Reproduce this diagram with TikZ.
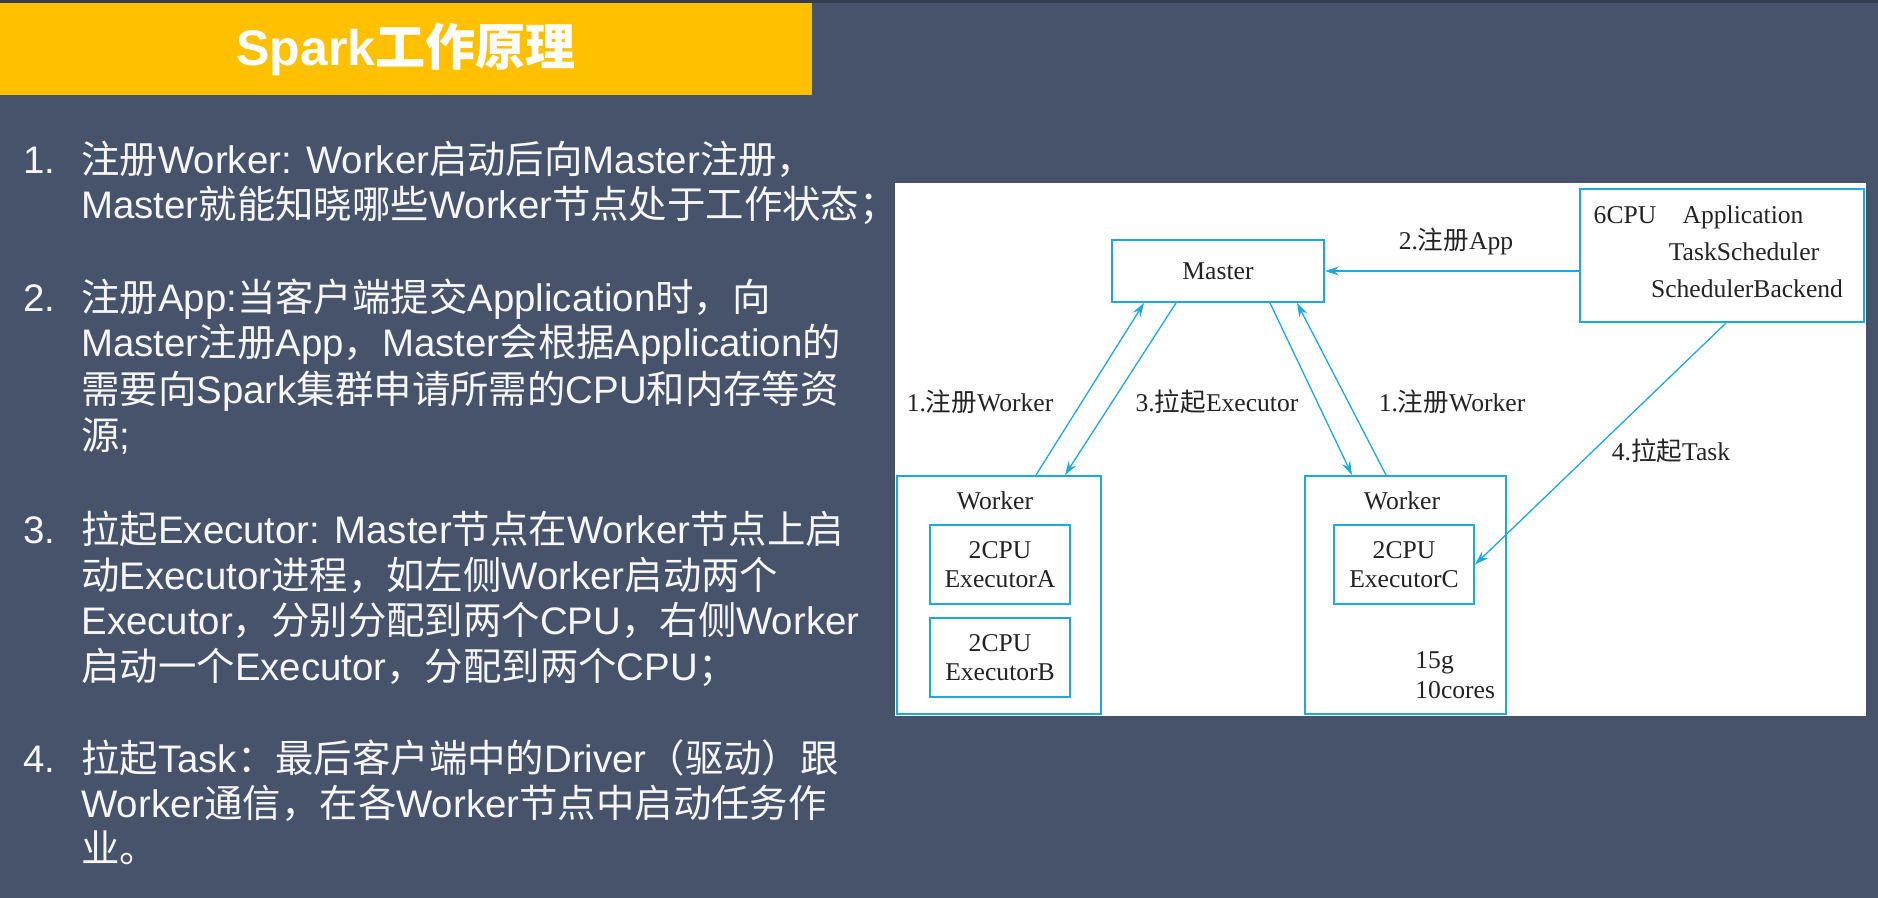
\documentclass[tikz,border=0pt]{standalone}
\usepackage{fontspec}
\setmainfont{Liberation Serif}
\setsansfont{Liberation Sans}
\newfontfamily\cjk{Noto Sans CJK SC}
\usetikzlibrary{arrows.meta,positioning}
\definecolor{slide}{RGB}{70,83,106}
\definecolor{slideEdge}{RGB}{52,60,78}
\definecolor{banner}{RGB}{255,192,0}
\definecolor{flow}{RGB}{30,168,224}
\definecolor{ink}{RGB}{35,35,35}
\definecolor{paper}{RGB}{246,246,246}

% switch to the CJK family for Chinese characters and back again
\def\latinfam{\rmfamily}
\XeTeXinterchartokenstate=1
\newXeTeXintercharclass\cjkClass
\def\setcjkrange#1#2{\count255=#1
  \loop\XeTeXcharclass\count255=\cjkClass
  \ifnum\count255<#2 \advance\count255 by 1 \repeat}
\setcjkrange{"3000}{"303F}
\setcjkrange{"4E00}{"9FFF}
\setcjkrange{"FF00}{"FFEF}
\XeTeXinterchartoks 0 \cjkClass={\cjk}
\XeTeXinterchartoks 4095 \cjkClass={\cjk}
\XeTeXinterchartoks \cjkClass 0={\latinfam}
\XeTeXinterchartoks \cjkClass 4095={\latinfam}

\begin{document}
\begin{tikzpicture}[x=0.5pt,y=-0.5pt,
  txt/.style={font={\def\latinfam{\sffamily}\sffamily\fontsize{19.2}{23}\selectfont},text=paper,anchor=base west,inner sep=0pt},
  box/.style={draw=flow,line width=1pt,fill=white,inner sep=0pt},
  lbl/.style={font=\fontsize{12.8}{14.5}\selectfont,text=ink,inner sep=0pt},
  arr/.style={draw=flow,line width=0.65pt,-{Stealth[length=7pt,width=4.5pt,inset=2.5pt]}}]

\useasboundingbox (0,0) rectangle (1878,898);

% slide background and title banner
\fill[slide] (0,0) rectangle (1878,898);
\fill[slideEdge] (0,0) rectangle (1878,3);
\node[fill=banner,minimum width=406pt,minimum height=46pt,inner sep=0pt,text=white,
      font={\def\latinfam{\sffamily}\sffamily\bfseries\fontsize{25}{30}\selectfont}] (title) at (406,49) {Spark工作原理};

% the four steps
\def\steps{1/174,2/312,3/543,4/772}
\def\lines{
174/{注册Worker: Worker启动后向Master注册，},
219/{Master就能知晓哪些Worker节点处于工作状态；},
312/{注册App:当客户端提交Application时，向},
357/{Master注册App，Master会根据Application的},
403/{需要向Spark集群申请所需的CPU和内存等资},
449/{源;},
543/{拉起Executor: Master节点在Worker节点上启},
589/{动Executor进程，如左侧Worker启动两个},
634/{Executor，分别分配到两个CPU，右侧Worker},
680/{启动一个Executor，分配到两个CPU；},
772/{拉起Task：最后客户端中的Driver（驱动）跟},
817/{Worker通信，在各Worker节点中启动任务作},
862/{业。}
}
\foreach \n/\y in \steps
  \node[txt] (num\n) at (23,\y) {\n.};
\foreach \y/\txt [count=\i] in \lines
  \node[txt] (line\i) at (81,\y) {\txt};

% white panel of the diagram
\fill[white] (895,183) rectangle (1866,716);

% boxes
\node[box,lbl,minimum width=106pt,minimum height=31pt] (master) at (1218,271) {Master};
\node[box,minimum width=142pt,minimum height=66.5pt] (app) at (1722,255.5) {};
\node[box,minimum width=102pt,minimum height=119pt] (wkLeft) at (999,595) {};
\node[box,minimum width=100.5pt,minimum height=119pt] (wkRight) at (1405.5,595) {};
\node[box,lbl,align=center,minimum width=70pt,minimum height=39.5pt] (exA) at (1000,564.5) {2CPU\\ExecutorA};
\node[box,lbl,align=center,minimum width=70pt,minimum height=39.5pt] (exB) at (1000,657.5) {2CPU\\ExecutorB};
\node[box,lbl,align=center,minimum width=70pt,minimum height=39.5pt] (exC) at (1404,564.5) {2CPU\\ExecutorC};

% texts in the boxes
\node[lbl,anchor=base] (cpuSix) at (1625,224) {6CPU};
\node[lbl,anchor=base] (appName) at (1743,224) {Application};
\node[lbl,anchor=base] (taskSched) at (1744,261) {TaskScheduler};
\node[lbl,anchor=base] (schedBack) at (1747,298) {SchedulerBackend};
\node[lbl,anchor=base] (wkLeftName) at (995,509) {Worker};
\node[lbl,anchor=base] (wkRightName) at (1402,509) {Worker};
\node[lbl,anchor=base west] (mem) at (1415,668) {15g};
\node[lbl,anchor=base west] (cores) at (1415,698) {10cores};

% connectors
\draw[arr] ([xshift=18.5pt]wkLeft.north) -- ([xshift=-37pt]master.south);
\draw[arr] ([xshift=-21pt]master.south) -- ([xshift=33pt]wkLeft.north);
\draw[arr] ([xshift=26pt]master.south) -- ([xshift=-26.75pt]wkRight.north);
\draw[arr] ([xshift=-9.75pt]wkRight.north) -- ([xshift=39.5pt]master.south);
\draw[arr] (app.west |- master.east) -- (master.east);
\draw[arr] ([xshift=2pt]app.south) -- (exC.east);

% connector labels
\node[lbl,anchor=base] (regLeft) at (980,411) {1.注册Worker};
\node[lbl,anchor=base] (launchEx) at (1217,411) {3.拉起Executor};
\node[lbl,anchor=base] (regRight) at (1452,411) {1.注册Worker};
\node[lbl,anchor=base] (regApp) at (1456,250) {2.注册App};
\node[lbl,anchor=base] (launchTask) at (1671,460) {4.拉起Task};

\end{tikzpicture}
\end{document}
